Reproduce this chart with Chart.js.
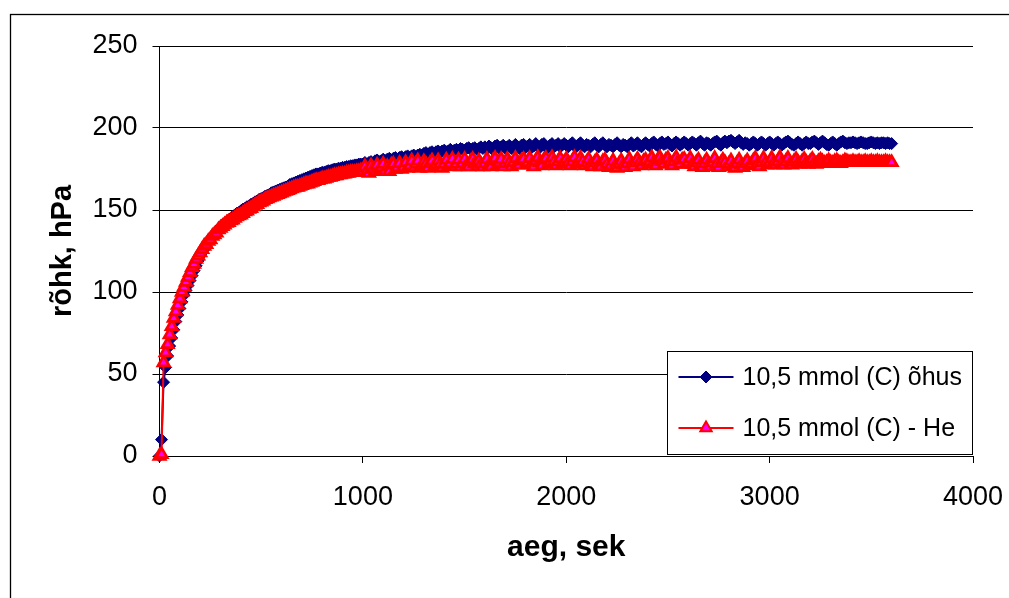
<!DOCTYPE html>
<html lang="et">
<head>
<meta charset="utf-8">
<title>Rõhk ajas</title>
<script src="https://cdn.jsdelivr.net/npm/chart.js@4.4.1/dist/chart.umd.min.js"></script>
<style>
  html, body { margin: 0; padding: 0; background: #fff; overflow: hidden; }
  #wrap { width: 1009px; height: 598px; }
</style>
</head>
<body>
<div id="wrap"><canvas id="pressureChart" width="1009" height="598"></canvas></div>
<script>
// Measurement times, s (logged every 10 s)
const times = [
  0, 10, 20, 30, 40, 50, 60, 70, 80, 90, 100, 110, 120, 130, 140, 150, 160, 170, 180, 190,
  200, 210, 220, 230, 240, 250, 260, 270, 280, 290, 300, 310, 320, 330, 340, 350, 360, 370, 380, 390,
  400, 410, 420, 430, 440, 450, 460, 470, 480, 490, 500, 510, 520, 530, 540, 550, 560, 570, 580, 590,
  600, 610, 620, 630, 640, 650, 660, 670, 680, 690, 700, 710, 720, 730, 740, 750, 760, 770, 780, 790,
  800, 810, 820, 830, 840, 850, 860, 870, 880, 890, 900, 910, 920, 930, 940, 950, 960, 970, 980, 990,
  1000, 1010, 1020, 1030, 1040, 1050, 1060, 1070, 1080, 1090, 1100, 1110, 1120, 1130, 1140, 1150, 1160, 1170, 1180, 1190,
  1200, 1210, 1220, 1230, 1240, 1250, 1260, 1270, 1280, 1290, 1300, 1310, 1320, 1330, 1340, 1350, 1360, 1370, 1380, 1390,
  1400, 1410, 1420, 1430, 1440, 1450, 1460, 1470, 1480, 1490, 1500, 1510, 1520, 1530, 1540, 1550, 1560, 1570, 1580, 1590,
  1600, 1610, 1620, 1630, 1640, 1650, 1660, 1670, 1680, 1690, 1700, 1710, 1720, 1730, 1740, 1750, 1760, 1770, 1780, 1790,
  1800, 1810, 1820, 1830, 1840, 1850, 1860, 1870, 1880, 1890, 1900, 1910, 1920, 1930, 1940, 1950, 1960, 1970, 1980, 1990,
  2000, 2010, 2020, 2030, 2040, 2050, 2060, 2070, 2080, 2090, 2100, 2110, 2120, 2130, 2140, 2150, 2160, 2170, 2180, 2190,
  2200, 2210, 2220, 2230, 2240, 2250, 2260, 2270, 2280, 2290, 2300, 2310, 2320, 2330, 2340, 2350, 2360, 2370, 2380, 2390,
  2400, 2410, 2420, 2430, 2440, 2450, 2460, 2470, 2480, 2490, 2500, 2510, 2520, 2530, 2540, 2550, 2560, 2570, 2580, 2590,
  2600, 2610, 2620, 2630, 2640, 2650, 2660, 2670, 2680, 2690, 2700, 2710, 2720, 2730, 2740, 2750, 2760, 2770, 2780, 2790,
  2800, 2810, 2820, 2830, 2840, 2850, 2860, 2870, 2880, 2890, 2900, 2910, 2920, 2930, 2940, 2950, 2960, 2970, 2980, 2990,
  3000, 3010, 3020, 3030, 3040, 3050, 3060, 3070, 3080, 3090, 3100, 3110, 3120, 3130, 3140, 3150, 3160, 3170, 3180, 3190,
  3200, 3210, 3220, 3230, 3240, 3250, 3260, 3270, 3280, 3290, 3300, 3310, 3320, 3330, 3340, 3350, 3360, 3370, 3380, 3390,
  3400, 3410, 3420, 3430, 3440, 3450, 3460, 3470, 3480, 3490, 3500, 3510, 3520, 3530, 3540, 3550, 3560, 3570, 3580, 3590,
  3600
];

// Pressure, hPa - sample in air
const airPressure = [
  0, 10, 45, 54, 61, 67, 72, 77, 82, 86, 90, 94, 98, 101, 104, 107, 110, 113, 116, 119,
  122, 124, 126, 128, 130, 132, 134, 135, 137, 138, 140, 141, 142, 143, 144, 145, 146, 147, 148, 148.5,
  149.5, 150.5, 151, 152, 152.5, 153.5, 154, 155, 155.5, 156.5, 157, 157.5, 158.5, 159, 159.5, 160.5, 161, 161.5, 162, 162.5,
  163, 163.5, 164, 164.5, 165.5, 166, 166.5, 167, 167.5, 168, 168.5, 169, 169.5, 170, 170.5, 171, 171.5, 172, 172, 172.5,
  173, 173, 173.5, 174, 174, 174.5, 175, 175, 175.5, 175.5, 176, 176, 176.5, 176.5, 177, 177, 177.5, 177.5, 178, 178,
  178, 179, 178, 179, 179.5, 178.5, 180, 180.5, 179.5, 180, 181, 180, 181, 181.5, 180.5, 181.5, 182, 181, 182, 182.5,
  181.5, 182.5, 183, 182, 183, 183.5, 182.5, 183.5, 184, 183.5, 184.5, 185, 184, 185, 185.5, 184.5, 185.5, 186, 185, 186,
  186.5, 185.5, 186, 187, 186, 186.5, 187, 186.5, 187.5, 187, 186.5, 187.5, 188, 187, 187.5, 188, 187, 187.5, 188.5, 187.5,
  188.5, 187, 189, 188, 186.5, 189, 189.5, 187.5, 188.5, 189.5, 187.5, 188.5, 189.5, 187.5, 188.5, 190, 188.5, 187.5, 189.5, 190,
  188, 189, 190, 188, 189, 190.5, 188.5, 188, 190, 190.5, 188.5, 188, 189.5, 190.5, 188.5, 189.5, 190.5, 188.5, 189.5, 190.5,
  189.5, 188.5, 190, 191, 189, 188.5, 190, 191, 189.5, 188.5, 190, 189.5, 188.5, 190, 191, 189.5, 188.5, 190, 191, 189.5,
  188.5, 190, 189.5, 188.5, 190, 191, 189.5, 188.5, 190, 189.5, 188.5, 190, 191, 189, 190, 191, 189.5, 188.5, 190, 191,
  190, 189, 190.5, 191.5, 190, 189, 190.5, 191.5, 190, 190.5, 191.5, 190, 189, 190.5, 191.5, 190.5, 189.5, 190.5, 191.5, 190.5,
  189.5, 190.5, 191.5, 190.5, 189.5, 191, 192, 190.5, 189.5, 191, 190.5, 189.5, 190.5, 191.5, 192, 190.5, 189.5, 191, 192, 191,
  192, 192.5, 191.5, 190.5, 191.5, 192.5, 191, 190, 191, 190.5, 189.5, 190.5, 191.5, 190.5, 189.5, 190.5, 191.5, 190.5, 189.5, 190.5,
  191.5, 190.5, 189.5, 190.5, 191.5, 190.5, 189.5, 190.5, 191.5, 192, 191, 190, 189.5, 190.5, 191.5, 190.5, 189.5, 190.5, 191.5, 190.5,
  190.5, 191.5, 192, 191, 190, 191, 192, 191, 190, 189.5, 190.5, 191.5, 190.5, 189.5, 190.5, 191.5, 192, 191, 190.5, 191,
  191, 191.5, 191, 190.5, 191, 191.5, 191, 190.5, 190.5, 191, 191.5, 191, 190.5, 191, 190.5, 191, 191, 190.5, 191, 190.5,
  190.5
];

// Pressure, hPa - sample under helium
const hePressure = [
  0, 1, 57, 63, 68, 74, 79, 84, 88, 92, 96, 100, 103, 106, 109, 112, 115, 117, 120, 122,
  124, 126, 128, 129, 131, 132, 134, 135, 136, 138, 139, 140, 141, 142, 142.5, 143.5, 144, 145, 146, 146.5,
  147, 148, 149, 149.5, 150.5, 151, 152, 153, 153.5, 154.5, 155, 155.5, 156.5, 157, 157.5, 158, 158.5, 159, 159.5, 160,
  160.5, 161, 161.5, 162, 162.5, 163, 163.5, 164, 164, 164.5, 165, 165.5, 166, 166, 166.5, 167, 167.5, 168, 168, 168.5,
  169, 169, 169.5, 170, 170, 170.5, 171, 171, 171.5, 171.5, 172, 172, 172.5, 172.5, 173, 173, 173, 173.5, 173.5, 174,
  173, 176.5, 174, 172.5, 177, 175, 173.5, 177.5, 174.5, 176, 178, 174, 176.5, 173.5, 177.5, 178, 175, 176, 178.5, 175,
  176, 179, 175.5, 177, 180, 176, 178, 180, 175.5, 177, 179.5, 178, 175.5, 178.5, 180, 176.5, 177.5, 180, 178, 175.5,
  178, 180.5, 177, 178.5, 181, 176.5, 178, 180.5, 176.5, 178.5, 181, 177.5, 176.5, 179.5, 181, 178.5, 176.5, 180, 178, 176.5,
  178.5, 181, 177.5, 176.5, 180, 181.5, 177.5, 179, 181, 176.5, 178.5, 181, 179, 176.5, 179, 181.5, 178, 177.5, 180, 181,
  177.5, 179, 181.5, 178, 176.5, 180, 182, 179, 177, 180.5, 181.5, 178, 179, 182, 179.5, 177, 179.5, 181.5, 178, 179,
  181, 179, 177, 179.5, 182, 178, 179, 181.5, 179.5, 177, 179, 181, 178, 176.5, 179, 180.5, 177.5, 176.5, 179.5, 180.5,
  178, 176, 177.5, 180, 177, 175.5, 178, 180, 177.5, 176, 178.5, 181, 178, 176.5, 179, 181, 179, 177, 179.5, 180.5,
  178, 179.5, 182, 179, 177, 180.5, 182, 179.5, 178, 180.5, 181.5, 179, 177, 179.5, 182, 179.5, 178, 180.5, 181, 178,
  179, 181.5, 178, 176.5, 179, 180.5, 177.5, 176, 178.5, 180.5, 178, 176.5, 179, 181.5, 178, 176, 178.5, 180.5, 179, 176.5,
  178, 180, 177, 175.5, 178.5, 180.5, 177.5, 176, 178.5, 180, 177, 178, 180, 181.5, 178, 176.5, 179, 181.5, 179, 177.5,
  179, 181.5, 179, 177.5, 179.5, 182, 179, 177.5, 179.5, 181.5, 178, 177.5, 179.5, 181, 179, 178, 179.5, 181, 179, 178,
  179.5, 181, 179, 178, 179.5, 180.5, 179.5, 178.5, 179, 180, 179, 178.5, 179.5, 180, 179, 178.5, 179, 180, 179.5, 179,
  179, 179.5, 179, 179, 179.5, 179, 179, 179.5, 179, 179, 179.5, 179, 179, 179.5, 179, 179, 179, 179.5, 179, 179,
  179
];

const seriesLabels = ['10,5 mmol (C) õhus', '10,5 mmol (C) - He'];
const xTicks = [0, 1000, 2000, 3000, 4000];
const yTicks = [0, 50, 100, 150, 200, 250];

const FONT = "'Liberation Sans', Arial, sans-serif";

const toPoints = vals => vals.map((v, i) => ({ x: times[i], y: v }));

// white page + outer chart frame (runs off the right/bottom edge)
const framePlugin = {
  id: 'frame',
  beforeDraw(chart) {
    const ctx = chart.ctx;
    ctx.save();
    ctx.fillStyle = '#fff';
    ctx.fillRect(0, 0, chart.width, chart.height);
    ctx.strokeStyle = '#000';
    ctx.lineWidth = 1.3;
    ctx.strokeRect(10.5, 14.5, chart.width + 40, chart.height + 40);
    ctx.restore();
  }
};

// boxed legend sitting in the lower right corner of the plot
const boxLegend = {
  id: 'boxLegend',
  afterDraw(chart, args, opts) {
    const ctx = chart.ctx;
    ctx.save();
    ctx.fillStyle = '#fff';
    ctx.fillRect(opts.left, opts.top, opts.width, opts.height);
    ctx.strokeStyle = '#000';
    ctx.lineWidth = 1;
    ctx.strokeRect(opts.left, opts.top, opts.width, opts.height);

    chart.data.datasets.forEach((ds, i) => {
      const y = opts.top + opts.firstRow + i * opts.rowGap;
      const x0 = opts.left + 11;
      const x1 = opts.left + 66;
      ctx.strokeStyle = ds.borderColor;
      ctx.lineWidth = ds.borderWidth;
      ctx.beginPath();
      ctx.moveTo(x0, y);
      ctx.lineTo(x1, y);
      ctx.stroke();

      // legend marker keeps a thinner outline so its fill stays visible
      const bw = Math.min(ds.pointBorderWidth, 2);
      ctx.fillStyle = ds.pointBackgroundColor;
      ctx.strokeStyle = ds.pointBorderColor;
      ctx.lineWidth = bw;
      Chart.helpers.drawPoint(ctx, {
        pointStyle: ds.pointStyle,
        radius: ds.pointRadius,
        rotation: 0,
        borderWidth: bw
      }, (x0 + x1) / 2, y);

      ctx.fillStyle = '#000';
      ctx.font = opts.font;
      ctx.textAlign = 'left';
      ctx.textBaseline = 'middle';
      ctx.fillText(ds.label, opts.left + 75, y + 1);
    });
    ctx.restore();
  }
};

new Chart(document.getElementById('pressureChart'), {
  type: 'line',
  data: {
    datasets: [
      {
        label: seriesLabels[0],
        data: toPoints(airPressure),
        borderColor: '#000080',
        borderWidth: 2,
        pointStyle: 'rectRot',
        pointRadius: 6,
        pointBackgroundColor: '#000080',
        pointBorderColor: '#000080',
        pointBorderWidth: 1,
        clip: false,
        order: 2
      },
      {
        label: seriesLabels[1],
        data: toPoints(hePressure),
        borderColor: '#FF0000',
        borderWidth: 2,
        pointStyle: 'triangle',
        pointRadius: 6.5,
        pointBackgroundColor: '#FF00FF',
        pointBorderColor: '#FF0000',
        pointBorderWidth: 2.75,
        clip: false,
        order: 1
      }
    ]
  },
  options: {
    responsive: false,
    animation: false,
    events: [],
    layout: { padding: { left: 0, top: 46, right: 36, bottom: 0 } },
    plugins: {
      legend: { display: false },
      tooltip: { enabled: false },
      boxLegend: {
        left: 667.5, top: 351.5, width: 305, height: 103,
        firstRow: 25.5, rowGap: 51,
        font: `25px ${FONT}`
      }
    },
    scales: {
      x: {
        type: 'linear',
        min: 0,
        max: 4000,
        afterBuildTicks: s => { s.ticks = xTicks.map(v => ({ value: v })); },
        afterFit: s => {
          s.height = 142;
          s.paddingLeft = 0;
          s.paddingRight = 0;
        },
        grid: { drawOnChartArea: false, drawTicks: true, tickLength: 7, color: '#000' },
        border: { display: true, color: '#000', width: 1 },
        ticks: {
          color: '#000', font: { family: FONT, size: 27 }, padding: 18, maxRotation: 0,
          callback: v => String(v)
        },
        title: {
          display: true, text: 'aeg, sek', color: '#000',
          font: { family: FONT, size: 30, weight: 'bold' },
          padding: { top: 0, bottom: 32 }
        }
      },
      y: {
        min: 0,
        max: 250,
        afterBuildTicks: s => { s.ticks = yTicks.map(v => ({ value: v })); },
        afterFit: s => {
          s.width = 159.5;
          s.paddingTop = 0;
          s.paddingBottom = 0;
        },
        grid: { color: '#000', lineWidth: 1, drawTicks: true, tickLength: 7 },
        border: { display: true, color: '#000', width: 1 },
        ticks: {
          color: '#000', font: { family: FONT, size: 27 }, padding: 15,
          callback: v => String(v)
        },
        title: {
          display: true, text: 'rõhk, hPa', color: '#000',
          font: { family: FONT, size: 29, weight: 'bold' },
          padding: { top: 46, bottom: 0 }
        }
      }
    }
  },
  plugins: [framePlugin, boxLegend]
});
</script>
</body>
</html>
